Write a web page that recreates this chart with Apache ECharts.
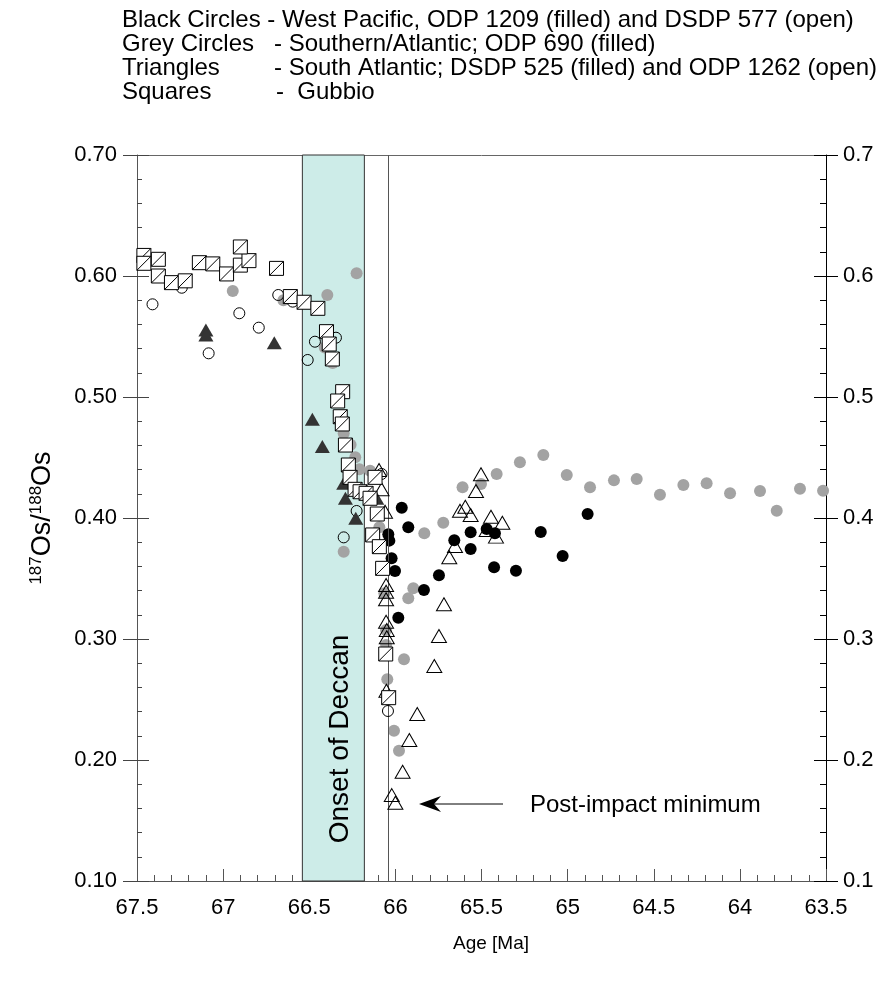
<!DOCTYPE html>
<html>
<head>
<meta charset="utf-8">
<script src="https://cdn.jsdelivr.net/npm/echarts@6/dist/echarts.min.js"></script>
<style>
  html, body { margin: 0; padding: 0; background: #fff; }
  #chart { width: 880px; height: 982px; }
</style>
</head>
<body>
<div id="chart"></div>
<script>
// Age [Ma] and 187Os/188Os for each record
const westPacificFilledAge = [65.963, 65.925, 66.041, 66.035, 66.022, 66.002, 65.834, 65.983, 65.747, 65.658, 65.563, 65.563, 65.470, 65.422, 65.427, 65.300, 65.156, 65.029, 64.884];
const westPacificFilledOs  = [0.4085, 0.3923, 0.3865, 0.3813, 0.3667, 0.3562, 0.3405, 0.3176, 0.3526, 0.3816, 0.3882, 0.3744, 0.3909, 0.3874, 0.3593, 0.3565, 0.3884, 0.3686, 0.4033];

const westPacificOpenAge = [67.41, 67.24, 66.906, 66.793, 67.084, 66.68, 66.596, 66.467, 66.345, 66.509, 66.225, 66.30, 66.08, 66.043];
const westPacificOpenOs  = [0.5766, 0.5903, 0.5692, 0.5573, 0.5361, 0.5843, 0.5788, 0.5457, 0.549, 0.5306, 0.4058, 0.384, 0.4364, 0.2405];

const southernAge = [66.944, 66.65, 66.395, 66.225, 66.41, 66.364, 66.30, 66.26, 66.233, 66.209, 66.147, 66.093, 66.30, 66.064, 65.896, 65.925, 66.054, 66.054, 65.95, 66.047, 66.008, 65.979, 65.832, 65.722, 65.61, 65.503, 65.412, 65.277, 65.141, 65.005, 64.87, 64.731, 64.599, 64.464, 64.328, 64.193, 64.057, 63.883, 63.786, 63.651, 63.517];
const southernOs  = [0.5876, 0.580, 0.5843, 0.6022, 0.541, 0.528, 0.470, 0.4606, 0.4502, 0.4402, 0.4391, 0.3923, 0.3722, 0.3378, 0.3419, 0.3336, 0.3074, 0.295, 0.2832, 0.2667, 0.2242, 0.2077, 0.3874, 0.3961, 0.4254, 0.4281, 0.4364, 0.446, 0.4521, 0.4355, 0.4254, 0.4311, 0.4322, 0.4193, 0.4273, 0.4287, 0.4204, 0.4223, 0.406, 0.4242, 0.4226];

const southAtlanticFilledAge = [67.1, 67.1, 66.703, 66.482, 66.424, 66.30, 66.29, 66.23, 66.108];
const southAtlanticFilledOs  = [0.5554, 0.5512, 0.5449, 0.4816, 0.459, 0.4287, 0.4163, 0.3998, 0.4163];

const southAtlanticOpenAge = [66.095, 66.08, 66.06, 66.054, 66.054, 66.054, 66.054, 66.05, 66.05, 66.052, 66.021, 66.0, 65.958, 65.919, 65.873, 65.774, 65.747, 65.718, 65.687, 65.654, 65.625, 65.594, 65.563, 65.532, 65.503, 65.445, 65.379, 65.47, 65.416];
const southAtlanticOpenOs  = [0.4397, 0.4237, 0.4052, 0.3446, 0.339, 0.3328, 0.3143, 0.3074, 0.3014, 0.2573, 0.171, 0.1647, 0.1903, 0.2165, 0.238, 0.2777, 0.3025, 0.3287, 0.3675, 0.3769, 0.406, 0.4093, 0.4025, 0.4223, 0.4361, 0.4011, 0.3961, 0.3901, 0.3846];

const gubbioAge = [67.46, 67.46, 67.376, 67.376, 67.30, 67.22, 67.138, 67.06, 66.98, 66.90, 66.85, 66.90, 66.69, 66.61, 66.53, 66.45, 66.40, 66.384, 66.366, 66.306, 66.335, 66.32, 66.308, 66.29, 66.273, 66.263, 66.118, 66.234, 66.205, 66.17, 66.147, 66.105, 66.132, 66.093, 66.074, 66.056, 66.039];
const gubbioOs  = [0.617, 0.6105, 0.6138, 0.600, 0.5945, 0.596, 0.611, 0.610, 0.6017, 0.609, 0.6127, 0.624, 0.6063, 0.583, 0.5783, 0.5733, 0.554, 0.5438, 0.5314, 0.5044, 0.4967, 0.4837, 0.4777, 0.4603, 0.4438, 0.4336, 0.4336, 0.4237, 0.4217, 0.4204, 0.4163, 0.4033, 0.386, 0.3763, 0.3584, 0.2876, 0.2515];

// Deccan onset interval and K-Pg boundary age
const deccanOnset = [66.54, 66.18];
const boundaryAge = 66.04;

// axis ticks
const ageTicks = [67.5, 67, 66.5, 66, 65.5, 65, 64.5, 64, 63.5];
const osTicks = [0.10, 0.20, 0.30, 0.40, 0.50, 0.60, 0.70];

const legendLines = [
  ['Black Circles - West Pacific, ODP 1209 (filled) and DSDP 577 (open)', ''],
  ['Grey Circles', '- Southern/Atlantic; ODP 690 (filled)'],
  ['Triangles', '- South Atlantic; DSDP 525 (filled) and ODP 1262 (open)'],
  ['Squares', '-  Gubbio']
];

function pairs(xs, ys) { return xs.map((x, i) => [x, ys[i]]); }

const FONT = 'Liberation Sans, Arial, Helvetica, sans-serif';
const squareSymbol = 'path://M0,0L10,0L10,10L0,10Z M0,10L10,0';

const chart = echarts.init(document.getElementById('chart'), null, { renderer: 'canvas' });

const xCommon = {
  type: 'value',
  min: ageTicks[ageTicks.length - 1],
  max: ageTicks[0],
  interval: 0.5,
  inverse: true,
  splitLine: { show: false }
};
const yCommon = {
  type: 'value',
  min: osTicks[0],
  max: osTicks[osTicks.length - 1],
  interval: 0.1,
  splitLine: { show: false }
};

const graphics = [];
const dashX = [0, 274, 274, 276];
legendLines.forEach((ln, i) => {
  const y = 20 + i * 24;
  graphics.push({ type: 'text', x: 122, y: y, style: { text: ln[0], font: '24px ' + FONT, fill: '#000', textVerticalAlign: 'middle' } });
  if (ln[1]) {
    graphics.push({ type: 'text', x: dashX[i], y: y, style: { text: ln[1], font: '24px ' + FONT, fill: '#000', textVerticalAlign: 'middle' } });
  }
});
graphics.push(
  { type: 'text', x: 340, y: 739, rotation: Math.PI / 2,
    style: { text: 'Onset of Deccan', font: '28px ' + FONT, fill: '#000', textAlign: 'center', textVerticalAlign: 'middle' }, z: 10 },
  { type: 'line', shape: { x1: 503, y1: 804, x2: 428, y2: 804 }, style: { stroke: '#000', lineWidth: 1 }, z: 10 },
  { type: 'polygon', shape: { points: [[419, 804], [441, 796], [434, 804], [441, 812]] }, style: { fill: '#000' }, z: 10 },
  { type: 'text', x: 530, y: 805, style: { text: 'Post-impact minimum', font: '24px ' + FONT, fill: '#000', textVerticalAlign: 'middle' }, z: 10 },
  { type: 'text', x: 491, y: 944, style: { text: 'Age [Ma]', font: '19px ' + FONT, fill: '#000', textAlign: 'center', textVerticalAlign: 'middle' } }
);

const option = {
  animation: false,
  backgroundColor: '#fff',
  grid: { left: 137, right: 54, top: 155, bottom: 101, containLabel: false },
  xAxis: [
    Object.assign({}, xCommon, {
      position: 'bottom',
      axisLine: { lineStyle: { color: '#555', width: 1 } },
      axisTick: { inside: true, length: 12, lineStyle: { color: '#555' } },
      minorTick: { show: true, splitNumber: 5, length: 6, lineStyle: { color: '#555' } },
      axisLabel: { fontSize: 22, fontFamily: FONT, color: '#000', margin: 16 }
    }),
    Object.assign({}, xCommon, {
      position: 'top',
      axisLine: { lineStyle: { color: '#666', width: 1 } },
      axisTick: { show: false },
      axisLabel: { show: false }
    })
  ],
  yAxis: [
    Object.assign({}, yCommon, {
      position: 'left',
      axisLine: { lineStyle: { color: '#555', width: 1 } },
      axisTick: { inside: false, length: 14, lineStyle: { color: '#444' } },
      axisLabel: { fontSize: 22, fontFamily: FONT, color: '#000', margin: 20, formatter: v => v.toFixed(2) },
      name: '{sup|187}Os/{sup|188}Os',
      nameLocation: 'middle',
      nameRotate: 90,
      nameGap: 80,
      nameTextStyle: {
        fontSize: 27, fontFamily: FONT, color: '#000',
        rich: { sup: { fontSize: 17, fontFamily: FONT, verticalAlign: 'top', padding: [0, 0, 12, 0] } }
      }
    }),
    Object.assign({}, yCommon, {
      position: 'left',
      axisLine: { show: false },
      axisTick: { inside: true, length: 12, lineStyle: { color: '#444' } },
      minorTick: { show: true, splitNumber: 5, length: 5, lineStyle: { color: '#444' } },
      axisLabel: { show: false }
    }),
    Object.assign({}, yCommon, {
      position: 'right',
      axisLine: { lineStyle: { color: '#000', width: 1 } },
      axisTick: { inside: false, length: 12, lineStyle: { color: '#000' } },
      axisLabel: { fontSize: 22, fontFamily: FONT, color: '#000', margin: 17, formatter: v => v.toFixed(1) }
    }),
    Object.assign({}, yCommon, {
      position: 'right',
      axisLine: { show: false },
      axisTick: { inside: true, length: 12, lineStyle: { color: '#000' } },
      minorTick: { show: true, splitNumber: 5, length: 6, lineStyle: { color: '#000' } },
      axisLabel: { show: false }
    })
  ],
  graphic: graphics,
  series: [
    {
      // Deccan onset band and boundary line
      type: 'scatter', data: [], silent: true,
      markArea: {
        silent: true,
        itemStyle: { color: '#cdece8', borderColor: '#333', borderWidth: 1 },
        data: [[{ xAxis: deccanOnset[0], yAxis: osTicks[osTicks.length - 1] }, { xAxis: deccanOnset[1], yAxis: osTicks[0] }]]
      },
      markLine: {
        silent: true, symbol: 'none', label: { show: false },
        lineStyle: { color: '#555', width: 1, type: 'solid' },
        data: [{ xAxis: boundaryAge }]
      }
    },
    {
      name: 'ODP 690', type: 'scatter', symbol: 'circle', symbolSize: 12,
      itemStyle: { color: '#a3a3a3', opacity: 1 },
      data: pairs(southernAge, southernOs), z: 3
    },
    {
      name: 'ODP 1209', type: 'scatter', symbol: 'circle', symbolSize: 12,
      itemStyle: { color: '#000', opacity: 1 },
      data: pairs(westPacificFilledAge, westPacificFilledOs), z: 4
    },
    {
      name: 'DSDP 577', type: 'scatter', symbol: 'circle', symbolSize: 11,
      itemStyle: { color: 'rgba(255,255,255,0)', borderColor: '#000', borderWidth: 1, opacity: 1 },
      data: pairs(westPacificOpenAge, westPacificOpenOs), z: 5
    },
    {
      name: 'DSDP 525', type: 'scatter', symbol: 'triangle', symbolSize: [15, 13],
      itemStyle: { color: '#333', opacity: 1 },
      data: pairs(southAtlanticFilledAge, southAtlanticFilledOs), z: 5
    },
    {
      name: 'ODP 1262', type: 'scatter', symbol: 'triangle', symbolSize: [15, 13],
      itemStyle: { color: 'rgba(255,255,255,0)', borderColor: '#000', borderWidth: 1, opacity: 1 },
      data: pairs(southAtlanticOpenAge, southAtlanticOpenOs), z: 6
    },
    {
      name: 'Gubbio', type: 'scatter', symbol: squareSymbol, symbolSize: 14,
      itemStyle: { color: '#fff', borderColor: '#000', borderWidth: 1, opacity: 1 },
      data: pairs(gubbioAge, gubbioOs), z: 7
    }
  ]
};

chart.setOption(option);
</script>
</body>
</html>
